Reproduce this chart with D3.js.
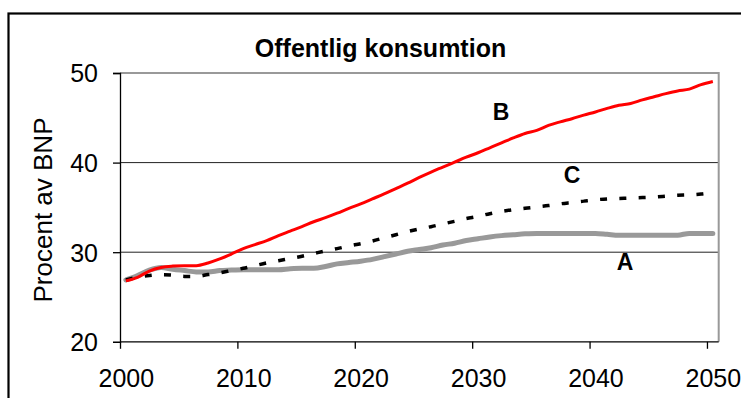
<!DOCTYPE html>
<html><head><meta charset="utf-8">
<script src="https://cdn.jsdelivr.net/npm/d3@7"></script>
<style>
html,body{margin:0;padding:0;background:#fff;}
svg{display:block;font-family:"Liberation Sans",Arial,sans-serif;}
</style></head>
<body>
<svg id="chart" width="741" height="398"></svg>
<script>
const years = [2000,2001,2002,2003,2004,2005,2006,2007,2008,2009,2010,2011,2012,2013,2014,2015,2016,2017,2018,2019,2020,2021,2022,2023,2024,2025,2026,2027,2028,2029,2030,2031,2032,2033,2034,2035,2036,2037,2038,2039,2040,2041,2042,2043,2044,2045,2046,2047,2048,2049,2050];
const seriesA = [26.9,27.4,28.0,28.3,28.1,27.95,27.8,27.8,27.95,28.0,28.05,28.05,28.05,28.05,28.15,28.2,28.2,28.4,28.7,28.85,29.0,29.2,29.5,29.8,30.1,30.3,30.5,30.8,31.0,31.3,31.5,31.7,31.85,31.95,32.05,32.1,32.1,32.1,32.1,32.1,32.1,32.0,31.9,31.9,31.9,31.9,31.9,31.9,32.1,32.1,32.1];
const seriesB = [26.8,27.2,27.9,28.3,28.45,28.5,28.5,28.8,29.25,29.8,30.4,30.85,31.3,31.85,32.35,32.85,33.4,33.85,34.35,34.9,35.4,35.95,36.5,37.1,37.7,38.35,38.95,39.5,40.05,40.6,41.1,41.65,42.2,42.75,43.25,43.6,44.15,44.55,44.9,45.3,45.65,46.05,46.4,46.6,47.0,47.35,47.7,48.0,48.2,48.7,49.05];
const seriesC = [26.9,27.2,27.4,27.5,27.45,27.3,27.3,27.5,27.7,27.95,28.2,28.5,28.8,29.05,29.3,29.55,29.85,30.15,30.4,30.7,30.95,31.25,31.6,31.95,32.3,32.6,32.85,33.15,33.45,33.75,34.0,34.3,34.55,34.75,34.9,35.05,35.2,35.4,35.55,35.7,35.85,35.95,36.0,36.05,36.1,36.15,36.25,36.35,36.4,36.5,36.7];
const yTicks = [20,30,40,50];
const xTickYears = [2000,2010,2020,2030,2040,2050];
const title = "Offentlig konsumtion";
const yTitle = "Procent av BNP";
const seriesNames = ["A","B","C"];

const svg = d3.select("#chart");
const L = 120, R = 718.7, T = 73, B = 341.8;
// category axis: each year occupies one band; points at band centres
const x = d3.scaleLinear().domain([2000, 2051]).range([L, R]);
const y = d3.scaleLinear().domain([20, 50]).range([B, T]);
const cx = yr => x(yr + 0.5);

// outer chart frame
svg.append("rect").attr("x",8.5).attr("y",13.5).attr("width",800).attr("height",500)
  .attr("fill","none").attr("stroke","#000").attr("stroke-width",2.2);

// title
svg.append("text").attr("x",380.5).attr("y",56.5).attr("text-anchor","middle")
  .attr("font-size",25).attr("font-weight","bold").attr("fill","#000").text(title);

// gridlines
svg.append("g").selectAll("line").data(yTicks.filter(v => v > 20 && v < 50)).join("line")
  .attr("x1",L).attr("x2",R).attr("y1",d=>y(d)).attr("y2",d=>y(d))
  .attr("stroke","#222").attr("stroke-width",1);

// plot area border top/right (gray)
svg.append("path").attr("d",`M${L},${y(50)}H${R}V${y(20)}`)
  .attr("fill","none").attr("stroke","#999").attr("stroke-width",2);

// y axis
const yAxis = d3.axisLeft(y).tickValues(yTicks).tickSize(7).tickPadding(0).tickFormat(d3.format("d"));
const gy = svg.append("g").attr("transform",`translate(${L},0)`).call(yAxis);
gy.select(".domain").attr("stroke","#000").attr("stroke-width",1.3);
gy.selectAll(".tick line").attr("stroke","#000").attr("stroke-width",1.3);
gy.selectAll(".tick text").attr("x",-22).attr("dy",null).attr("y",8.8)
  .attr("font-size",25).attr("fill","#000").attr("font-family","Liberation Sans, Arial, sans-serif");

// x axis
const xAxis = d3.axisBottom(x).tickValues(xTickYears).tickSize(7).tickFormat(d3.format("d"));
const gx = svg.append("g").attr("transform",`translate(0,${B})`).call(xAxis);
gx.select(".domain").attr("d",`M${L},0H${R}`).attr("stroke","#000").attr("stroke-width",1.3);
gx.selectAll(".tick line").attr("stroke","#000").attr("stroke-width",1.3);
gx.selectAll(".tick text").attr("x",(x(2000.5)-x(2000))).attr("dy",null).attr("y",45.5)
  .attr("font-size",25).attr("fill","#000").attr("font-family","Liberation Sans, Arial, sans-serif");

// y title
svg.append("text").attr("transform","translate(51.5,210) rotate(-90)").attr("text-anchor","middle")
  .attr("font-size",26).attr("fill","#000").text(yTitle);

// lines
const line = d3.line().x((d,i)=>cx(years[i])).y(d=>y(d)).curve(d3.curveMonotoneX);
svg.append("path").datum(seriesA).attr("d",line).attr("fill","none")
  .attr("stroke","#999999").attr("stroke-width",5).attr("stroke-linejoin","round").attr("stroke-linecap","round");
svg.append("path").datum(seriesC).attr("d",line).attr("fill","none")
  .attr("stroke","#000").attr("stroke-width",3.5).attr("stroke-dasharray","7,12.3");
svg.append("path").datum(seriesB).attr("d",line).attr("fill","none")
  .attr("stroke","#ff0000").attr("stroke-width",3).attr("stroke-linejoin","round");

// series labels
const labelPos = [[625,269.5],[501,119.5],[572,182.5]];
svg.append("g").selectAll("text").data(seriesNames).join("text")
  .attr("x",(d,i)=>labelPos[i][0]).attr("y",(d,i)=>labelPos[i][1]).attr("text-anchor","middle")
  .attr("font-size",23).attr("font-weight","bold").attr("fill","#000").text(d=>d);
</script>
</body></html>
